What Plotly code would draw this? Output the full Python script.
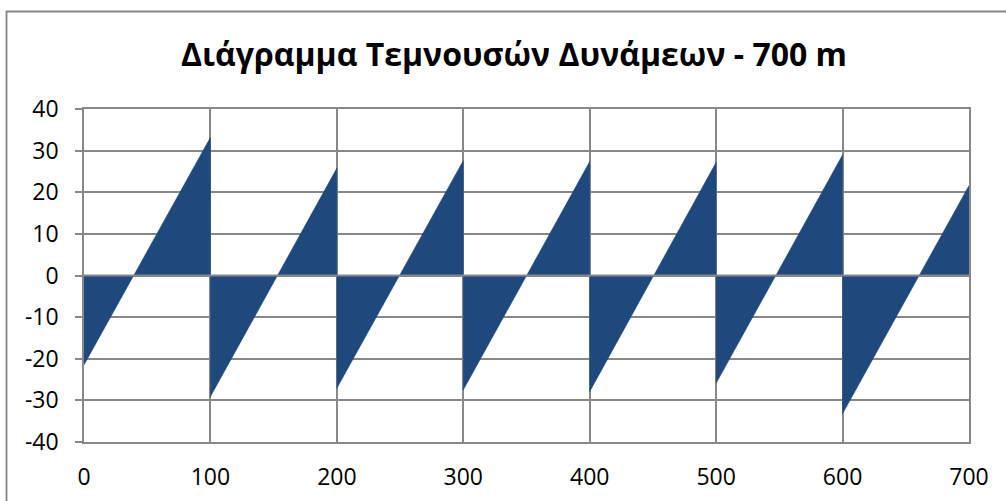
import plotly.graph_objects as go

# Shear force diagram of a continuous beam, supports every 100 m
supports = [0, 100, 200, 300, 400, 500, 600, 700]
shear_start = [-21.5, -29.1, -27.1, -27.5, -27.9, -25.9, -33.2]  # kN just right of left support
shear_end = [33.2, 25.8, 27.6, 27.4, 27.2, 29.0, 21.6]           # kN just left of right support

y_ticks = [-40, -30, -20, -10, 0, 10, 20, 30, 40]
x_ticks = [0, 100, 200, 300, 400, 500, 600, 700]

xs, ys = [], []
for i in range(len(shear_start)):
    xs += [supports[i], supports[i + 1]]
    ys += [shear_start[i], shear_end[i]]

FILL = "#1F497D"
GRID = "#888888"
FONT = "Open Sans"

W, H = 1006, 501
ML, MR, MT, MB = 84, 37, 109, 59
pw, ph = W - ML - MR, H - MT - MB


def px_x(p):
    return (p - ML) / pw


def px_y(p):
    return (H - MB - p) / ph


fig = go.Figure()
fig.add_trace(go.Scatter(
    x=xs, y=ys, mode="lines", fill="tozeroy",
    fillcolor=FILL, line=dict(color=FILL, width=0.5),
    hoverinfo="x+y", showlegend=False,
))

fig.update_layout(
    width=W, height=H,
    margin=dict(l=ML, r=MR, t=MT, b=MB, autoexpand=False),
    paper_bgcolor="white", plot_bgcolor="white",
    font=dict(family=FONT, size=23, color="#000000"),
    title=dict(
        text="<b>Διάγραμμα Τεμνουσών Δυνάμεων - 700 m</b>",
        x=514 / W, xanchor="center", xref="container",
        y=1 - 55 / H, yanchor="middle", yref="container",
        font=dict(family=FONT, size=32, color="#000000"),
    ),
    xaxis=dict(
        range=[0, 700], tickvals=x_ticks, ticktext=[str(v) for v in x_ticks],
        showgrid=True, gridcolor=GRID, gridwidth=1.5, automargin=False,
        zeroline=False, showline=True, linecolor=GRID, linewidth=1.5, mirror=True,
        ticks="", ticklabelstandoff=14,
        tickfont=dict(family=FONT, size=23, color="#000000"),
    ),
    yaxis=dict(
        range=[-40, 40], tickvals=y_ticks, ticktext=[str(v) for v in y_ticks],
        showgrid=True, gridcolor=GRID, gridwidth=1.5, automargin=False,
        zeroline=False, showline=True, linecolor=GRID, linewidth=1.5, mirror=True,
        ticks="outside", ticklen=7, tickcolor=GRID, tickwidth=1.5,
        ticklabelstandoff=12,
        tickfont=dict(family=FONT, size=23, color="#000000"),
    ),
)

# horizontal axis line at zero, drawn over the filled areas
fig.add_shape(type="line", xref="x domain", yref="y", x0=0, x1=1, y0=0, y1=0,
              line=dict(color=GRID, width=1.8), layer="above")

# chart area frame
fig.add_shape(type="rect", xref="paper", yref="paper",
              x0=px_x(6.5), x1=px_x(W + 10), y0=px_y(H + 10), y1=px_y(11.5),
              line=dict(color="#868686", width=1.8), layer="below")

fig.write_html("out.html")
